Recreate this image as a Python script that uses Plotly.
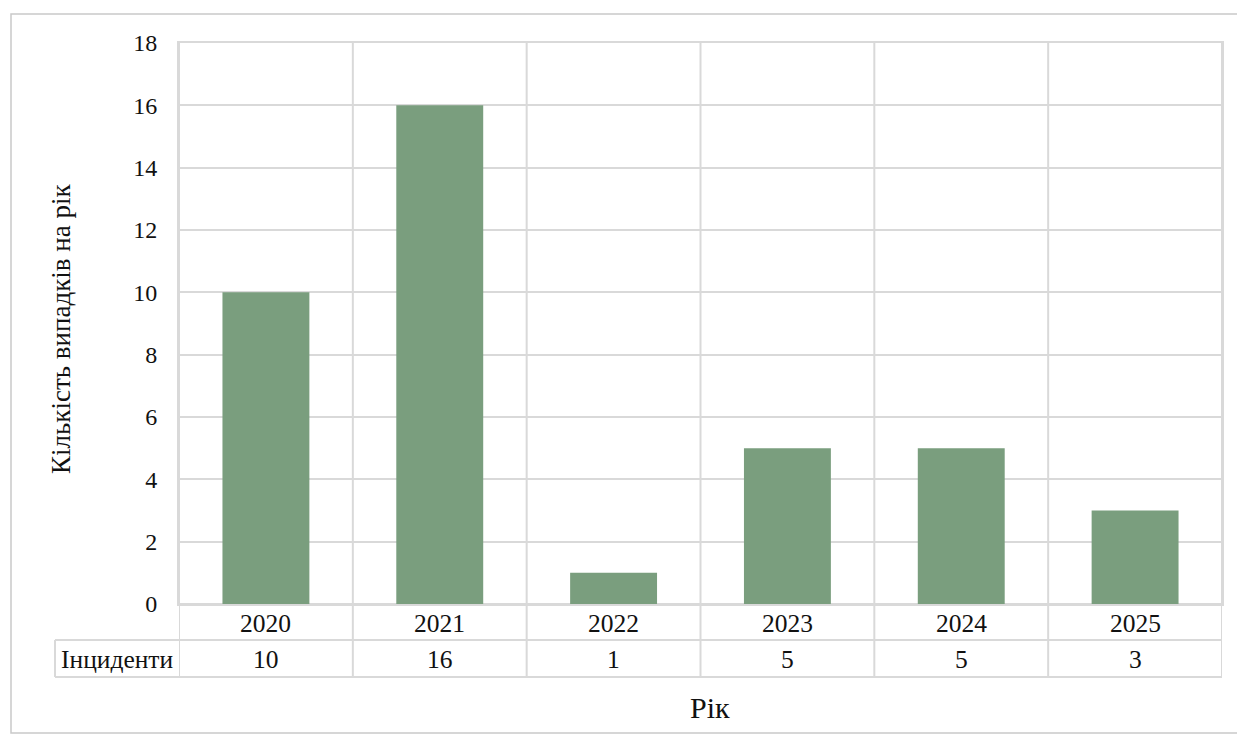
import plotly.graph_objects as go

years = ["2020", "2021", "2022", "2023", "2024", "2025"]
incidents = [10, 16, 1, 5, 5, 3]
series_name = "Інциденти"
y_title = "Кількість випадків на рік"
x_title = "Рік"
y_ticks = [0, 2, 4, 6, 8, 10, 12, 14, 16, 18]

W, H = 1237, 735
FONT = "Liberation Serif"
GRID = "#d9d9d9"
BAR = "#7a9e7e"
TXT = "#111111"
FS_TICK = 24
FS_TABLE = 25.5

# pixel layout
px_left, px_right = 179, 1222
px_top, px_bottom = 43, 604
row1_bottom, row2_bottom = 640, 677
label_left = 55


def fx(p):
    return p / W


def fy(p):
    return 1 - p / H


fig = go.Figure()
fig.add_trace(go.Bar(
    x=years, y=incidents, width=0.5,
    marker=dict(color=BAR, line=dict(width=0)),
    hoverinfo="x+y", showlegend=False,
))

shapes = []
n = len(years)
# vertical grid / table lines at category boundaries
for i in range(n + 1):
    shapes.append(dict(type="line", xref="x", yref="paper",
                       x0=i - 0.5, x1=i - 0.5, y0=fy(row2_bottom), y1=fy(px_top),
                       line=dict(color=GRID, width=2), layer="below"))
# table horizontal lines
for yy, x0 in [(px_bottom, px_left), (row1_bottom, label_left), (row2_bottom, label_left)]:
    shapes.append(dict(type="line", xref="paper", yref="paper",
                       x0=fx(x0), x1=fx(px_right), y0=fy(yy), y1=fy(yy),
                       line=dict(color=GRID, width=2), layer="below"))
# left edge of the series-name cell
shapes.append(dict(type="line", xref="paper", yref="paper",
                   x0=fx(label_left), x1=fx(label_left), y0=fy(row1_bottom), y1=fy(row2_bottom),
                   line=dict(color=GRID, width=2), layer="below"))
# outer chart border
shapes.append(dict(type="rect", xref="paper", yref="paper",
                   x0=fx(11), x1=fx(W + 5), y0=fy(733), y1=fy(14),
                   line=dict(color="#c9c9c9", width=1.5), layer="below"))

annotations = []
# category labels row (years) and data row (incidents)
for i, (yr, v) in enumerate(zip(years, incidents)):
    annotations.append(dict(x=i, xref="x", y=fy((px_bottom + row1_bottom) / 2 + 1), yref="paper",
                            text=yr, showarrow=False, xanchor="center", yanchor="middle",
                            font=dict(family=FONT, size=FS_TABLE, color=TXT)))
    annotations.append(dict(x=i, xref="x", y=fy((row1_bottom + row2_bottom) / 2 + 1), yref="paper",
                            text=str(v), showarrow=False, xanchor="center", yanchor="middle",
                            font=dict(family=FONT, size=FS_TABLE, color=TXT)))
annotations.append(dict(x=fx((label_left + px_left) / 2), xref="paper",
                        y=fy((row1_bottom + row2_bottom) / 2 + 1), yref="paper",
                        text=series_name, showarrow=False, xanchor="center", yanchor="middle",
                        font=dict(family=FONT, size=FS_TABLE, color=TXT)))
annotations.append(dict(x=fx(61), xref="paper", y=fy(329), yref="paper",
                        text=y_title, textangle=-90, showarrow=False,
                        xanchor="center", yanchor="middle",
                        font=dict(family=FONT, size=27, color=TXT)))
annotations.append(dict(x=fx(710), xref="paper", y=fy(707), yref="paper",
                        text=x_title, showarrow=False, xanchor="center", yanchor="middle",
                        font=dict(family=FONT, size=30, color=TXT)))

fig.update_layout(
    template="none",
    width=W, height=H,
    margin=dict(l=0, r=0, t=0, b=0, pad=0, autoexpand=False),
    paper_bgcolor="white", plot_bgcolor="white",
    font=dict(family=FONT, size=FS_TICK, color=TXT),
    xaxis=dict(domain=[fx(px_left), fx(px_right)], type="category",
               range=[-0.5, n - 0.5], showgrid=False, zeroline=False,
               showline=True, linecolor=GRID, linewidth=2, mirror=True,
               ticks="", showticklabels=False, automargin=False, fixedrange=True),
    yaxis=dict(domain=[fy(px_bottom), fy(px_top)], range=[0, 18],
               tickvals=y_ticks, showgrid=True, gridcolor=GRID, gridwidth=2,
               zeroline=False, showline=True, linecolor=GRID, linewidth=2, mirror=True,
               ticks="", tickfont=dict(family=FONT, size=FS_TICK, color=TXT),
               ticklabelstandoff=15, automargin=False, fixedrange=True),
    shapes=shapes,
    annotations=annotations,
    showlegend=False,
)

fig.write_html("out.html")
